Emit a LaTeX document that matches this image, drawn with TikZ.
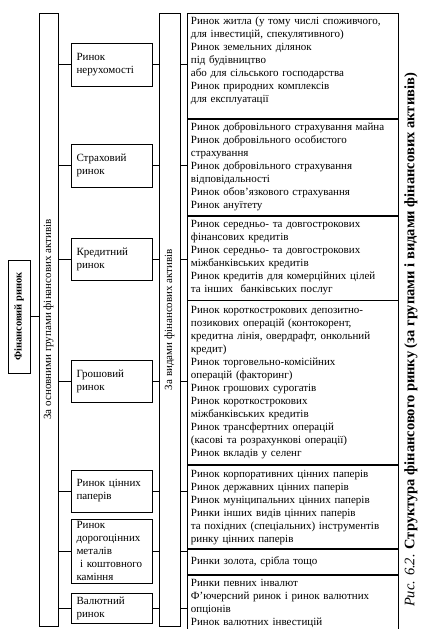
\documentclass[tikz,border=0pt]{standalone}
\usepackage{fontspec}
\setmainfont{Liberation Serif}
\usetikzlibrary{positioning}

\tikzset{
  colbox/.style={draw, line width=0.8pt, rotate=90, inner sep=0pt, minimum height=19pt},
  grpbox/.style={draw, line width=0.8pt, align=left, text width=70pt, inner xsep=5.5pt, inner ysep=2pt},
  detbox/.style={draw, line width=0.8pt, align=left, text width=204pt, inner xsep=3.5pt, inner ysep=2pt},
  link/.style={line width=0.8pt}
}

\begin{document}
\begin{tikzpicture}[x=1pt, y=-1pt, font=\fontsize{11}{13}\selectfont]
	\useasboundingbox (0,0) rectangle (421,629);
	\node[colbox, minimum width=113pt, minimum height=22pt, font=\fontsize{10.5}{13}\selectfont\bfseries] (fin) at (19,316.5) {Фінансовий ринок};
	\node[colbox, minimum width=613pt] (col1) at (48.5,319.5) {За основними групами фінансових активів};
	\node[colbox, minimum width=613pt, minimum height=21pt] (col2) at (169.5,319.5) {За видами фінансових активів};
	\draw[link] (fin.south) -- (fin.south -| col1.north);
	% groups
	\foreach \n/\y/\h/\t in {g1/64.5/43/{Ринок\\нерухомості}, g2/165.5/43/{Страховий\\ринок}, g3/259/42/{Кредитний\\ринок}, g4/381/42/{Грошовий\\ринок}, g5/491/42/{Ринок цінних\\паперів}, g6/551/64/{Ринок\\дорогоцінних\\металів\\\ і коштовного\\каміння}, g7/608/30/{Валютний\\ринок}}
		{\node[grpbox, minimum height=\h pt] (\n) at (111.5,\y) {\t};}
	% kinds
	\node[detbox, anchor=north west, minimum height=105pt] (d1) at (187,13) {Ринок житла (у тому числі споживчого,\\для інвестицій, спекулятивного)\\Ринок земельних ділянок\\під будівництво\\або для сільського господарства\\Ринок природних комплексів\\для експлуатації\\\mbox{}};
	\foreach \n/\p/\h/\t in {d2/d1/96/{Ринок добровільного страхування майна\\Ринок добровільного особистого\\страхування\\Ринок добровільного страхування\\відповідальності\\Ринок обов'язкового страхування\\Ринок ануїтету},
		d3/d2/84/{Ринок середньо- та довгострокових\\фінансових кредитів\\Ринок середньо- та довгострокових\\міжбанківських кредитів\\Ринок кредитів для комерційних цілей\\та інших\ \ банківських послуг},
		d4/d3/164/{Ринок короткострокових депозитно-\\позикових операцій (контокорент,\\кредитна лінія, овердрафт, онкольний\\кредит)\\Ринок торговельно-комісійних\\операцій (факторинг)\\Ринок грошових сурогатів\\Ринок короткострокових\\міжбанківських кредитів\\Ринок трансфертних операцій\\(касові та розрахункові операції)\\Ринок вкладів у селенг},
		d5/d4/83/{Ринок корпоративних цінних паперів\\Ринок державних цінних паперів\\Ринок муніципальних цінних паперів\\Ринки інших видів цінних паперів\\та похідних (спеціальних) інструментів\\ринку цінних паперів},
		d6/d5/25/{Ринки золота, срібла тощо},
		d7/d6/56/{Ринки певних інвалют\\Ф'ючерсний ринок і ринок валютних\\опціонів\\Ринок валютних інвестицій}}
		{\node[detbox, minimum height=\h pt, below=0pt of \p] (\n) {\t};}
	% links
	\foreach \g/\d in {g1/d1, g2/d2, g3/d3, g4/d4, g5/d5, g6/d6, g7/d7} {
		\draw[link] (\g.west) -- (\g.west -| col1.south);
		\draw[link] (\g.east) -- (\g.east -| col2.north);
		\draw[link] (col2.south |- \g.east) -- (\d.west |- \g.east);
	}
	\node[rotate=90, font=\fontsize{14.5}{17}\selectfont] (caption) at (411,340) {\textit{Рис. 6.2.} \textbf{Структура фінансового ринку (за групами і видами фінансових активів)}};
\end{tikzpicture}
\end{document}
